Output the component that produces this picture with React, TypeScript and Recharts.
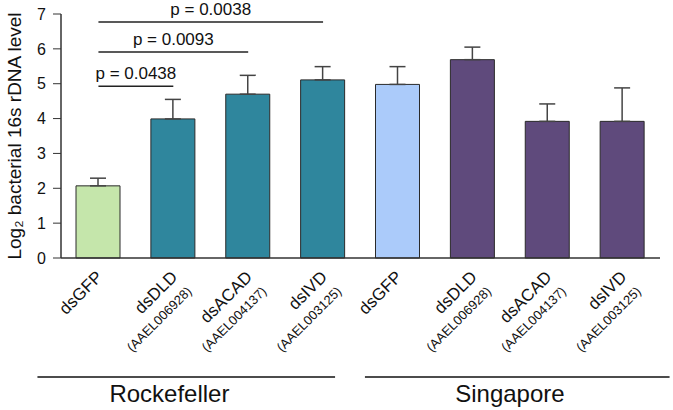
import { BarChart, Bar, XAxis, YAxis, ErrorBar, Cell, ReferenceLine } from 'recharts';

const ids = ['r1', 'r2', 'r3', 'r4', 's1', 's2', 's3', 's4'];
const categories = ['dsGFP', 'dsDLD', 'dsACAD', 'dsIVD', 'dsGFP', 'dsDLD', 'dsACAD', 'dsIVD'];
const geneIds = ['', '(AAEL006928)', '(AAEL004137)', '(AAEL003125)', '', '(AAEL006928)', '(AAEL004137)', '(AAEL003125)'];
const strains = ['Rockefeller', 'Rockefeller', 'Rockefeller', 'Rockefeller', 'Singapore', 'Singapore', 'Singapore', 'Singapore'];
const means = [2.07, 3.99, 4.7, 5.11, 4.98, 5.69, 3.92, 3.92];
const upperErrors = [0.22, 0.56, 0.54, 0.38, 0.51, 0.36, 0.5, 0.96];
const yTicks = [0, 1, 2, 3, 4, 5, 6, 7];

const pFrom = ['r1', 'r1', 'r1'];
const pTo = ['r2', 'r3', 'r4'];
const pLevels = [4.93, 5.91, 6.77];
const pLabels = ['p = 0.0438', 'p = 0.0093', 'p = 0.0038'];

const barColors = ['#c5e6ab', '#2f869d', '#2f869d', '#2f869d', '#abcbfa', '#5f4a7c', '#5f4a7c', '#5f4a7c'];

const data = ids.map((id, i) => ({
  id,
  mean: means[i],
  err: [0, upperErrors[i]],
}));

const FONT = 'Liberation Sans, Arial, sans-serif';
const W = 673;
const H = 410;
const LEFT = 61;
const RIGHT = 13;

// horizontal layout of the strain brackets, relative to the first category centre
const groupLayout: Record<string, { left: number; right: number; label: number }> = {
  Rockefeller: { left: -61, right: 12, label: 71 },
  Singapore: { left: -33, right: 47, label: 112 },
};

// category names, gene ids and strain brackets, laid out on the x axis band
function XLabels(props: any) {
  const { viewBox } = props;
  const step = viewBox.width / ids.length;
  const top = viewBox.y;
  return (
    <g fontFamily={FONT} fill="#111">
      {ids.map((id, i) => {
        const cx = viewBox.x + (i + 0.5) * step;
        const px = cx + 5;
        const py = top + 20;
        const qx = px + 20 * Math.SQRT1_2;
        const qy = py + 20 * Math.SQRT1_2;
        const strain = strains[i];
        const first = i === 0 || strains[i - 1] !== strain;
        const count = strains.filter((s) => s === strain).length;
        const g = groupLayout[strain];
        return (
          <g key={id}>
            <text x={px} y={py} transform={`rotate(-45 ${px} ${py})`} textAnchor="end" fontSize={17}>
              {categories[i]}
            </text>
            {geneIds[i] && (
              <text x={qx} y={qy} transform={`rotate(-45 ${qx} ${qy})`} textAnchor="end" fontSize={13}>
                {geneIds[i]}
              </text>
            )}
            {first && (
              <g>
                <line
                  x1={cx + g.left}
                  x2={cx + (count - 1) * step + g.right}
                  y1={top + 119}
                  y2={top + 119}
                  stroke="#111"
                  strokeWidth={1.5}
                />
                <text x={cx + g.label} y={top + 144} textAnchor="middle" fontSize={24}>
                  {strain}
                </text>
              </g>
            )}
          </g>
        );
      })}
    </g>
  );
}

function YLabel(props: any) {
  const { viewBox } = props;
  const cx = 21;
  const cy = viewBox.y + viewBox.height / 2;
  return (
    <text
      x={cx}
      y={cy}
      transform={`rotate(-90, ${cx}, ${cy})`}
      textAnchor="middle"
      fontSize={19}
      fill="#111"
      fontFamily={FONT}
    >
      Log₂ bacterial 16s rDNA level
    </text>
  );
}

export default function App() {
  return (
    <div style={{ position: 'absolute', left: 0, top: 0 }}>
      <BarChart width={W} height={H} data={data} margin={{ top: 14, right: RIGHT, left: 0, bottom: 0 }}>
        <XAxis
          dataKey="id"
          height={152}
          interval={0}
          tick={false}
          tickLine={false}
          axisLine={{ stroke: '#333', strokeWidth: 1.5 }}
          label={<XLabels />}
        />
        <YAxis
          width={LEFT}
          domain={[0, 7]}
          ticks={yTicks}
          interval={0}
          tickSize={8}
          tickMargin={7}
          axisLine={{ stroke: '#333', strokeWidth: 1.5 }}
          tickLine={{ stroke: '#333' }}
          tick={{ fontSize: 16, fill: '#111', fontFamily: FONT }}
          label={<YLabel />}
        />
        <Bar dataKey="mean" barSize={44} stroke="#2a2a2a" strokeWidth={1} isAnimationActive={false}>
          {data.map((d, i) => (
            <Cell key={d.id} fill={barColors[i]} />
          ))}
          <ErrorBar dataKey="err" direction="y" width={8} stroke="#444" strokeWidth={1.5} />
        </Bar>
        {pLabels.map((p, i) => (
          <ReferenceLine
            key={p}
            segment={[
              { x: pFrom[i], y: pLevels[i] },
              { x: pTo[i], y: pLevels[i] },
            ]}
            stroke="#222"
            strokeWidth={1.5}
            label={{ value: p, position: 'top', fontSize: 17, fill: '#111', offset: 7, fontFamily: FONT }}
          />
        ))}
      </BarChart>
    </div>
  );
}
